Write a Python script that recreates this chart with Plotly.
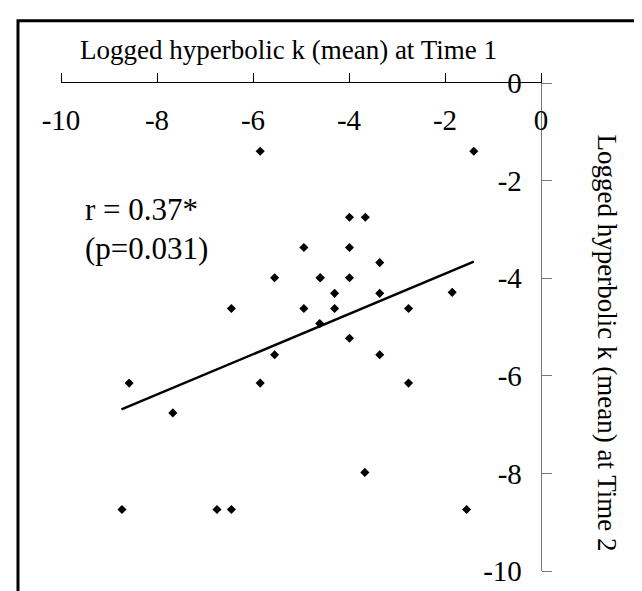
import plotly.graph_objects as go

# Logged hyperbolic k (mean) at Time 1 (x) and Time 2 (y)
k_time1 = [-5.85, -1.40, -3.99, -3.66, -4.94, -3.99, -3.36, -5.55, -4.60, -4.60,
           -3.99, -4.30, -3.36, -1.85, -6.45, -4.94, -4.30, -2.76, -4.61, -3.99,
           -5.55, -3.36, -8.58, -5.85, -2.76, -7.67, -3.67, -8.73, -6.75, -6.45,
           -1.55]
k_time2 = [-1.40, -1.40, -2.75, -2.75, -3.37, -3.37, -3.68, -3.99, -3.99, -3.99,
           -3.99, -4.31, -4.31, -4.29, -4.62, -4.62, -4.62, -4.62, -4.93, -5.23,
           -5.57, -5.57, -6.15, -6.15, -6.15, -6.76, -7.98, -8.74, -8.74, -8.74,
           -8.74]

# Fitted regression line end points
fit_x = [-8.74, -1.40]
fit_y = [-6.69, -3.66]

x_ticks = [-10, -8, -6, -4, -2, 0]
y_ticks = [0, -2, -4, -6, -8, -10]

x_title = "Logged hyperbolic k (mean) at Time 1"
y_title = "Logged hyperbolic k (mean) at Time 2"
stat_lines = ["r = 0.37*", "(p=0.031)"]

FONT = "Liberation Serif, Times New Roman, serif"

fig = go.Figure()
fig.add_trace(go.Scatter(x=k_time1, y=k_time2, mode="markers",
                         marker=dict(symbol="diamond", size=7, color="black"),
                         showlegend=False, hoverinfo="x+y"))
fig.add_trace(go.Scatter(x=fit_x, y=fit_y, mode="lines",
                         line=dict(color="black", width=2.5),
                         showlegend=False, hoverinfo="skip"))

fig.update_layout(
    width=642, height=591,
    margin=dict(l=53, r=109, t=75, b=22),
    paper_bgcolor="white", plot_bgcolor="white",
    font=dict(family=FONT, color="black"),
    xaxis=dict(
        side="top", range=[-10, 0], tickvals=x_ticks,
        ticktext=[str(v) for v in x_ticks],
        ticks="outside", ticklen=9, tickcolor="black", tickwidth=1,
        showline=True, linecolor="black", linewidth=1,
        showgrid=False, zeroline=False,
        ticklabelposition="inside", ticklabelstandoff=30,
        ticklabeloverflow="allow",
        tickfont=dict(family=FONT, size=29, color="black"),
    ),
    yaxis=dict(
        side="right", range=[-10, 0], tickvals=y_ticks,
        ticktext=[str(v) for v in y_ticks],
        ticks="outside", ticklen=10, tickcolor="#777777", tickwidth=1,
        showline=True, linecolor="#777777", linewidth=1,
        showgrid=False, zeroline=False,
        ticklabelposition="inside", ticklabelstandoff=22,
        ticklabeloverflow="allow",
        tickfont=dict(family=FONT, size=29, color="black"),
    ),
    annotations=[
        dict(text=x_title, xref="paper", yref="paper", x=0.473, y=1.0,
             yshift=33, xanchor="center", yanchor="middle", showarrow=False,
             font=dict(family=FONT, size=27, color="black")),
        dict(text=y_title, xref="paper", yref="paper", x=1.0, y=0.468,
             xshift=66, xanchor="center", yanchor="middle", showarrow=False,
             textangle=90, font=dict(family=FONT, size=27, color="black")),
        dict(text=stat_lines[0], xref="x", yref="y", x=-9.54, y=-2.59,
             xanchor="left", yanchor="middle", showarrow=False,
             font=dict(family=FONT, size=31, color="black")),
        dict(text=stat_lines[1], xref="x", yref="y", x=-9.54, y=-3.40,
             xanchor="left", yanchor="middle", showarrow=False,
             font=dict(family=FONT, size=31, color="black")),
    ],
    shapes=[
        dict(type="rect", xref="paper", yref="paper",
             x0=-0.0896, x1=1.3, y0=-0.1, y1=1.1275,
             line=dict(color="black", width=3), fillcolor="rgba(0,0,0,0)",
             layer="below"),
    ],
)

fig.write_html("out.html")
